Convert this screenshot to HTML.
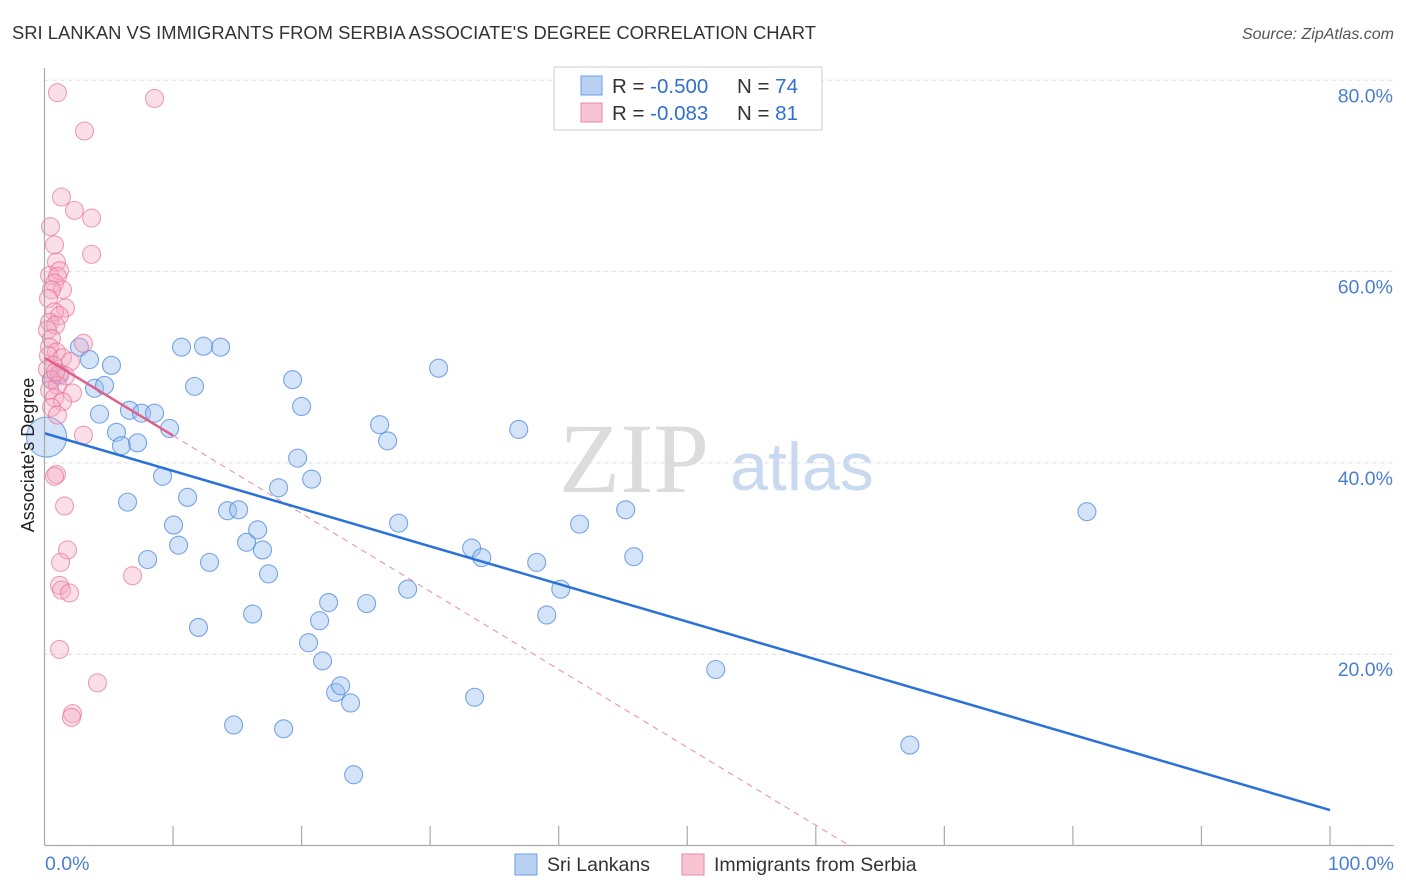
<!DOCTYPE html>
<html><head><meta charset="utf-8"><style>
body{margin:0;background:#fff;}
svg{display:block;font-family:"Liberation Sans",sans-serif;}
</style></head><body>
<svg id="chart" width="1406" height="892">
<text x="12" y="39" font-size="18" fill="#333" textLength="804" lengthAdjust="spacingAndGlyphs">SRI LANKAN VS IMMIGRANTS FROM SERBIA ASSOCIATE'S DEGREE CORRELATION CHART</text>
<text x="1394" y="39" font-size="16" fill="#555" font-style="italic" text-anchor="end">Source: ZipAtlas.com</text>
<g id="grid"></g>
<text x="634" y="492" font-size="100" fill="#dcdcdc" text-anchor="middle" font-family="Liberation Serif,serif">ZIP</text>
<text x="802" y="490" font-size="68" fill="#c9d9ef" text-anchor="middle">atlas</text>
<g id="marks"></g>
<line x1="44.5" y1="68" x2="44.5" y2="845.5" stroke="#aaa" stroke-width="1.2"/>
<line x1="44.5" y1="845.5" x2="1394" y2="845.5" stroke="#aaa" stroke-width="1.2"/>
<g id="ticks"></g>
<text transform="translate(34,455) rotate(-90)" font-size="18" fill="#222" text-anchor="middle">Associate's Degree</text>
<text x="45" y="870" font-size="19.5" fill="#4a7fd0">0.0%</text>
<text x="1394" y="870" font-size="19.5" fill="#4a7fd0" text-anchor="end">100.0%</text>
<g>
<rect x="554" y="67" width="268" height="63" fill="#fff" stroke="#ccc"/>
<rect x="581" y="76" width="21" height="19" fill="#b8d1f3" stroke="#6d9fe0"/>
<rect x="581" y="103" width="21" height="19" fill="#f8c3d2" stroke="#e98aa6"/>
<text x="612" y="93" font-size="20.5" fill="#333">R = <tspan fill="#2f6fd0">-0.500</tspan><tspan x="737">N = </tspan><tspan fill="#2f6fd0">74</tspan></text>
<text x="612" y="120" font-size="20.5" fill="#333">R = <tspan fill="#2f6fd0"> -0.083</tspan><tspan x="737">N = </tspan><tspan fill="#2f6fd0"> 81</tspan></text>
</g>
<g>
<rect x="515" y="854" width="22" height="21" fill="#b8d1f3" stroke="#6d9fe0"/>
<text x="547" y="871" font-size="19.5" fill="#333">Sri Lankans</text>
<rect x="682" y="854" width="22" height="21" fill="#f8c3d2" stroke="#e98aa6"/>
<text x="714" y="871" font-size="19.5" fill="#333">Immigrants from Serbia</text>
</g>
</svg>
<script>
const yTicks=[20,40,60,80];
const xTicks=[10,20,30,40,50,60,70,80,90,100];
const blueX=[0.16,0.54,1.17,2.72,3.50,4.28,3.89,4.67,5.21,5.60,5.99,6.46,6.61,7.24,7.55,8.02,8.56,9.18,9.73,10.04,10.43,10.66,11.13,11.67,11.98,12.37,12.84,13.70,14.24,14.71,15.10,15.72,16.19,16.58,16.96,17.43,18.21,18.60,19.30,19.69,20.00,20.54,20.78,21.40,21.63,22.10,22.65,23.04,23.81,24.05,25.06,26.07,26.69,27.55,28.25,30.66,33.23,33.46,34.01,36.89,38.29,39.07,40.16,41.63,45.21,45.84,52.22,67.32,81.09];
const blueY=[42.7,48.7,49.2,52.1,50.8,45.1,47.8,48.1,50.2,43.2,41.8,35.9,45.5,42.1,45.2,29.9,45.2,38.6,43.6,33.5,31.4,52.1,36.4,48.0,22.8,52.2,29.6,52.1,35.0,12.6,35.1,31.7,24.2,33.0,30.9,28.4,37.4,12.2,48.7,40.5,45.9,21.2,38.3,23.5,19.3,25.4,16.0,16.7,14.9,7.4,25.3,44.0,42.3,33.7,26.8,49.9,31.1,15.5,30.1,43.5,29.6,24.1,26.8,33.6,35.1,30.2,18.4,10.5,34.9];
const pinkX=[1.01,8.56,3.11,1.32,2.33,3.66,0.47,0.78,3.66,0.93,1.17,0.39,1.01,0.78,1.40,0.54,0.31,1.63,0.78,1.17,0.39,0.86,0.23,0.54,3.03,0.39,0.93,0.31,1.40,2.02,0.70,0.23,1.17,1.63,0.54,1.01,0.39,2.18,0.78,1.40,0.54,1.01,3.03,0.93,1.56,1.79,1.25,1.17,1.32,1.95,1.17,4.12,2.18,2.10,6.85,0.78,0.86];
const pinkY=[78.7,78.1,74.7,67.8,66.4,65.6,64.7,62.8,61.8,61.0,60.1,59.6,59.5,58.8,58.1,58.1,57.2,56.2,55.8,55.4,54.7,54.4,53.9,53.0,52.5,52.1,51.6,51.2,51.0,50.6,50.2,49.8,49.4,49.1,48.7,48.1,47.6,47.3,46.8,46.4,45.8,45.0,42.9,38.8,35.5,30.9,29.6,27.2,26.7,26.4,20.5,17.0,13.8,13.4,28.2,38.6,49.5];
const blueTrend=[43.1,3.7];      // y at x=0, y at x=100
const pinkTrend=[51.0,62.6,10];  // y at x=0, x-intercept, solid end x
const sx=v=>44.5+v*12.855, sy=v=>845.5-v*9.565;
const NS='http://www.w3.org/2000/svg';
function mk(tag,attrs,parent){const e=document.createElementNS(NS,tag);for(const k in attrs)e.setAttribute(k,attrs[k]);parent.appendChild(e);return e;}
const grid=document.getElementById('grid'),ticks=document.getElementById('ticks'),marks=document.getElementById('marks');
yTicks.forEach(t=>{
 const l=mk('line',{x1:44.5,x2:1394,y1:sy(t),y2:sy(t),stroke:'#ddd','stroke-dasharray':'4,4'},grid);
 
 
 const tx=mk('text',{x:1393,y:sy(t)+22,'font-size':19.5,fill:'#4a7fd0','text-anchor':'end'},ticks);
 tx.textContent=t.toFixed(1)+'%';
 
 
});
xTicks.forEach(t=>{
 const l=mk('line',{x1:sx(t),x2:sx(t),y1:826,y2:845.5,stroke:'#aaa','stroke-width':1.2},ticks);
 
 
});
blueX.forEach((x,i)=>{
 const c=mk('circle',{cx:sx(x),cy:sy(blueY[i]),r:i===0?20:9,fill:'rgba(150,190,240,0.42)',stroke:'rgba(70,130,220,0.7)','stroke-width':1.1},marks);
 
 
});
pinkX.forEach((x,i)=>{
 const c=mk('circle',{cx:sx(x),cy:sy(pinkY[i]),r:9,fill:'rgba(245,170,195,0.38)',stroke:'rgba(230,110,150,0.65)','stroke-width':1.1},marks);
 
 
});
const pslope=-pinkTrend[0]/pinkTrend[1];
const pd=mk('line',{x1:sx(pinkTrend[2]),y1:sy(pinkTrend[0]+pslope*pinkTrend[2]),x2:sx(pinkTrend[1]),y2:sy(0),stroke:'#e88aa8','stroke-width':1,'stroke-dasharray':'6,5'},marks);


const ps=mk('line',{x1:sx(0),y1:sy(pinkTrend[0]),x2:sx(pinkTrend[2]),y2:sy(pinkTrend[0]+pslope*pinkTrend[2]),stroke:'#e0608a','stroke-width':2.5},marks);


const bl=mk('line',{x1:sx(0),y1:sy(blueTrend[0]),x2:sx(100),y2:sy(blueTrend[1]),stroke:'#2a72d8','stroke-width':2.5},marks);


</script>
</body></html>
